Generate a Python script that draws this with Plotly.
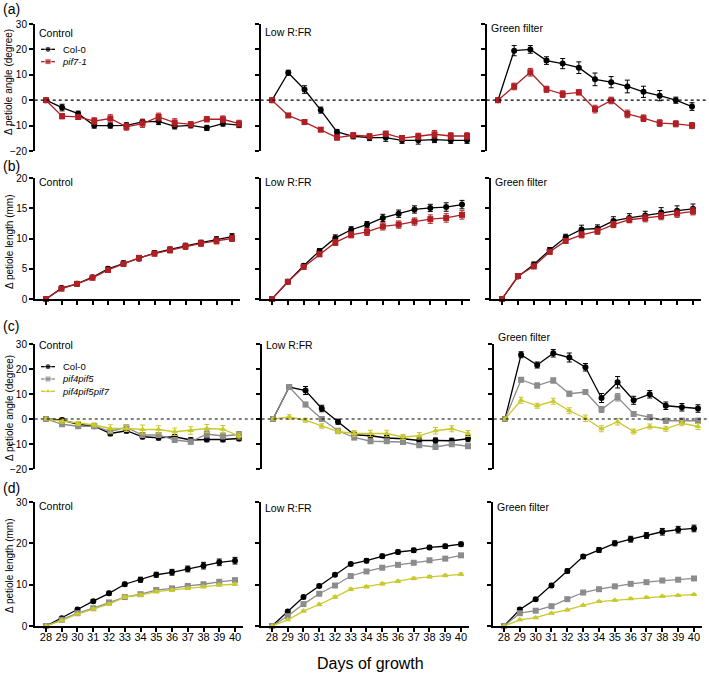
import plotly.graph_objects as go

DAYS = list(range(28, 41))
X_TICKS = [str(d) for d in DAYS]

# (a) petiole angle (degree): Col-0 vs pif7-1
A_CONTROL_COL0 = [0, -2.9, -5.3, -10.0, -10.0, -9.9, -8.5, -8.3, -10.3, -9.9, -10.9, -9.2, -9.8]
A_CONTROL_COL0_SE = [0, 1.3, 1.0, 1.0, 1.0, 1.0, 1.0, 1.3, 1.0, 1.0, 1.0, 1.0, 1.0]
A_CONTROL_PIF7 = [0, -6.3, -6.6, -8.2, -7.2, -10.5, -9.2, -6.6, -8.8, -9.5, -7.5, -7.5, -9.2]
A_CONTROL_PIF7_SE = [0, 1.0, 1.0, 1.3, 1.5, 1.3, 1.5, 1.5, 1.5, 1.0, 1.0, 1.3, 1.3]
A_LOW_COL0 = [0, 10.8, 4.2, -3.9, -12.5, -14.2, -14.7, -14.7, -15.8, -15.8, -15.5, -15.8, -15.8]
A_LOW_COL0_SE = [0, 1.0, 1.5, 1.2, 1.0, 1.0, 1.2, 1.5, 1.2, 1.5, 1.2, 1.2, 1.2]
A_LOW_PIF7 = [0, -6.0, -8.6, -11.6, -14.7, -13.8, -14.2, -13.2, -14.9, -14.2, -13.4, -14.1, -14.1]
A_LOW_PIF7_SE = [0, 0.8, 0.8, 0.8, 1.0, 1.0, 1.0, 1.0, 1.0, 1.2, 1.5, 1.3, 1.3]
A_GREEN_COL0 = [0, 19.5, 20.0, 15.6, 14.4, 12.8, 8.2, 7.1, 5.4, 3.3, 1.8, 0.0, -2.5]
A_GREEN_COL0_SE = [0, 2.0, 1.5, 1.5, 2.0, 2.3, 2.5, 2.2, 2.5, 2.2, 2.0, 1.2, 1.5]
A_GREEN_PIF7 = [0, 5.4, 11.0, 4.3, 2.4, 3.1, -3.5, -0.1, -5.4, -7.1, -9.0, -9.3, -10.0]
A_GREEN_PIF7_SE = [0, 1.3, 1.5, 1.2, 1.3, 1.0, 1.5, 1.3, 1.5, 1.3, 1.3, 1.2, 1.2]

# (b) petiole length (mm): Col-0 vs pif7-1
B_CONTROL_COL0 = [0, 1.8, 2.5, 3.6, 5.0, 5.9, 6.7, 7.6, 8.2, 8.8, 9.3, 9.8, 10.3]
B_CONTROL_COL0_SE = [0, 0.3, 0.3, 0.3, 0.3, 0.4, 0.4, 0.4, 0.4, 0.4, 0.4, 0.5, 0.5]
B_CONTROL_PIF7 = [0, 1.7, 2.5, 3.5, 4.8, 5.8, 6.8, 7.5, 8.1, 8.7, 9.2, 9.6, 10.0]
B_CONTROL_PIF7_SE = [0, 0.3, 0.3, 0.3, 0.4, 0.4, 0.4, 0.4, 0.5, 0.5, 0.5, 0.5, 0.5]
B_LOW_COL0 = [0, 2.85, 5.5, 7.95, 10.1, 11.45, 12.3, 13.4, 14.1, 14.8, 15.05, 15.2, 15.6]
B_LOW_COL0_SE = [0, 0.2, 0.3, 0.4, 0.5, 0.5, 0.5, 0.6, 0.6, 0.6, 0.6, 0.7, 0.7]
B_LOW_PIF7 = [0, 2.85, 5.3, 7.4, 9.35, 10.6, 11.1, 12.0, 12.3, 12.8, 13.2, 13.4, 13.9]
B_LOW_PIF7_SE = [0, 0.2, 0.3, 0.4, 0.5, 0.5, 0.6, 0.6, 0.6, 0.6, 0.7, 0.7, 0.7]
B_GREEN_COL0 = [0, 3.7, 5.7, 8.1, 10.2, 11.5, 11.65, 12.9, 13.4, 13.8, 14.3, 14.6, 14.9]
B_GREEN_COL0_SE = [0, 0.3, 0.4, 0.4, 0.5, 0.7, 0.6, 0.7, 0.7, 0.7, 0.8, 0.8, 0.8]
B_GREEN_PIF7 = [0, 3.8, 5.4, 7.8, 9.6, 10.6, 11.2, 12.3, 13.1, 13.35, 13.7, 14.1, 14.5]
B_GREEN_PIF7_SE = [0, 0.3, 0.4, 0.4, 0.4, 0.5, 0.5, 0.5, 0.5, 0.6, 0.6, 0.6, 0.6]

# (c) petiole angle (degree): Col-0, pif4pif5, pif4pif5pif7
C_CONTROL_COL0 = [0, -0.4, -2.1, -2.9, -5.8, -4.7, -7.1, -7.5, -7.1, -8.4, -8.2, -8.2, -7.8]
C_CONTROL_COL0_SE = [0, 0.7, 0.8, 0.8, 0.9, 0.9, 0.8, 0.9, 0.8, 0.9, 0.9, 0.9, 0.9]
C_CONTROL_PIF45 = [0, -2.1, -2.9, -2.9, -4.9, -3.4, -6.4, -6.4, -8.4, -9.1, -6.0, -6.8, -6.2]
C_CONTROL_PIF45_SE = [0, 0.8, 0.8, 0.7, 0.9, 1.0, 0.9, 1.0, 1.0, 1.0, 1.5, 1.2, 1.2]
C_CONTROL_PIF457 = [0, -0.9, -1.8, -2.4, -3.8, -3.8, -4.2, -4.2, -5.1, -4.6, -3.8, -4.1, -6.8]
C_CONTROL_PIF457_SE = [0, 0.8, 0.8, 0.8, 1.5, 1.2, 1.8, 1.5, 1.5, 1.5, 1.6, 1.5, 1.2]
C_LOW_COL0 = [0, 12.8, 11.4, 4.2, -1.1, -6.3, -6.7, -7.6, -7.9, -8.6, -8.6, -8.7, -7.9]
C_LOW_COL0_SE = [0, 1.0, 1.6, 1.3, 1.0, 1.0, 0.9, 1.0, 1.0, 1.0, 1.0, 1.0, 1.2]
C_LOW_PIF45 = [0, 12.8, 5.8, 0.0, -4.7, -7.4, -8.9, -8.9, -9.2, -10.5, -11.2, -10.1, -10.9]
C_LOW_PIF45_SE = [0, 0.8, 0.9, 0.9, 0.9, 0.9, 0.9, 0.9, 0.9, 0.9, 0.9, 0.9, 0.9]
C_LOW_PIF457 = [0, 0.8, -0.5, -2.8, -5.0, -5.8, -5.8, -5.8, -7.2, -6.7, -4.7, -3.9, -5.8]
C_LOW_PIF457_SE = [0, 0.9, 0.8, 0.9, 0.9, 1.2, 1.3, 1.3, 1.0, 1.3, 1.3, 1.2, 1.2]
C_GREEN_COL0 = [0, 25.7, 21.6, 26.3, 24.6, 20.7, 8.4, 14.7, 7.5, 9.9, 5.3, 4.7, 4.2]
C_GREEN_COL0_SE = [0, 1.2, 1.2, 1.5, 1.8, 1.5, 1.8, 2.3, 1.6, 1.5, 1.5, 1.5, 1.5]
C_GREEN_PIF45 = [0, 15.7, 13.4, 15.4, 10.1, 10.8, 3.8, 8.7, 2.0, 0.7, -0.7, -0.7, -0.7]
C_GREEN_PIF45_SE = [0, 0.9, 1.0, 1.0, 1.0, 1.0, 1.2, 1.5, 1.0, 1.0, 1.0, 1.0, 1.0]
C_GREEN_PIF457 = [0, 7.5, 5.3, 7.1, 3.3, 0.3, -3.9, -1.1, -5.0, -3.0, -3.9, -1.7, -3.0]
C_GREEN_PIF457_SE = [0, 1.2, 1.0, 1.2, 1.2, 1.3, 1.2, 1.3, 1.0, 1.0, 1.0, 1.0, 1.2]

# (d) petiole length (mm): Col-0, pif4pif5, pif4pif5pif7
D_CONTROL_COL0 = [0, 1.9, 4.0, 6.0, 7.9, 10.1, 11.2, 12.4, 13.0, 13.8, 14.6, 15.4, 15.8]
D_CONTROL_COL0_SE = [0, 0.3, 0.4, 0.4, 0.5, 0.5, 0.6, 0.6, 0.7, 0.7, 0.8, 0.8, 0.8]
D_CONTROL_PIF45 = [0, 1.5, 3.1, 4.3, 5.7, 7.0, 7.7, 8.7, 9.1, 9.7, 10.1, 10.7, 11.1]
D_CONTROL_PIF45_SE = [0, 0.2, 0.2, 0.3, 0.3, 0.3, 0.3, 0.4, 0.4, 0.4, 0.4, 0.4, 0.4]
D_CONTROL_PIF457 = [0, 1.3, 2.9, 4.1, 5.3, 7.0, 7.5, 8.3, 8.7, 9.1, 9.5, 9.9, 10.1]
D_CONTROL_PIF457_SE = [0, 0.2, 0.2, 0.3, 0.3, 0.3, 0.3, 0.3, 0.3, 0.3, 0.3, 0.3, 0.3]
D_LOW_COL0 = [0, 3.5, 7.0, 9.7, 12.4, 15.0, 15.8, 16.9, 17.9, 18.3, 19.0, 19.3, 19.8]
D_LOW_COL0_SE = [0, 0.3, 0.4, 0.4, 0.4, 0.4, 0.5, 0.5, 0.5, 0.5, 0.5, 0.5, 0.5]
D_LOW_PIF45 = [0, 2.4, 5.3, 7.8, 9.8, 12.1, 13.2, 14.1, 14.8, 15.3, 15.9, 16.3, 17.1]
D_LOW_PIF45_SE = [0, 0.2, 0.3, 0.3, 0.3, 0.3, 0.3, 0.3, 0.3, 0.4, 0.4, 0.4, 0.4]
D_LOW_PIF457 = [0, 1.5, 3.6, 5.2, 7.0, 8.9, 9.5, 10.2, 10.8, 11.5, 11.9, 12.2, 12.5]
D_LOW_PIF457_SE = [0, 0.2, 0.2, 0.3, 0.3, 0.3, 0.3, 0.3, 0.3, 0.3, 0.3, 0.3, 0.3]
D_GREEN_COL0 = [0, 4.0, 6.5, 9.8, 13.3, 16.8, 18.4, 20.0, 21.0, 21.9, 22.8, 23.3, 23.6]
D_GREEN_COL0_SE = [0, 0.4, 0.4, 0.5, 0.5, 0.5, 0.6, 0.6, 0.7, 0.7, 0.8, 0.8, 0.8]
D_GREEN_PIF45 = [0, 3.1, 3.7, 4.8, 6.5, 8.1, 8.9, 9.6, 10.2, 10.6, 11.0, 11.2, 11.5]
D_GREEN_PIF45_SE = [0, 0.3, 0.3, 0.3, 0.3, 0.3, 0.3, 0.3, 0.3, 0.3, 0.3, 0.3, 0.3]
D_GREEN_PIF457 = [0, 1.5, 2.0, 3.1, 3.9, 5.0, 5.9, 6.2, 6.6, 6.9, 7.2, 7.4, 7.6]
D_GREEN_PIF457_SE = [0, 0.2, 0.2, 0.2, 0.2, 0.2, 0.2, 0.2, 0.2, 0.2, 0.2, 0.2, 0.2]

CONDITIONS = ["Control", "Low R:FR", "Green filter"]
PANEL_LETTERS = ["(a)", "(b)", "(c)", "(d)"]
Y_TITLES = ["Δ petiole angle (degree)", "Δ petiole length (mm)",
            "Δ petiole angle (degree)", "Δ petiole length (mm)"]
Y_RANGES = [[-20, 30], [0, 20], [-20, 30], [0, 30]]
Y_DTICKS = [10, 5, 10, 10]
LEGEND_A = ["Col-0", "pif7-1"]
LEGEND_C = ["Col-0", "pif4pif5", "pif4pif5pif7"]

BLACK = "#000000"
RED = "#b01f24"
GREY = "#8c8c8c"
YELLOW = "#c9c92c"
STYLES = {
    "Col-0": (BLACK, "circle", "Col-0"),
    "pif7-1": (RED, "square", "<i>pif7-1</i>"),
    "pif4pif5": (GREY, "square", "<i>pif4pif5</i>"),
    "pif4pif5pif7": (YELLOW, "triangle-up", "<i>pif4pif5pif7</i>"),
}

PANELS = [
    [
        [("Col-0", A_CONTROL_COL0, A_CONTROL_COL0_SE), ("pif7-1", A_CONTROL_PIF7, A_CONTROL_PIF7_SE)],
        [("Col-0", A_LOW_COL0, A_LOW_COL0_SE), ("pif7-1", A_LOW_PIF7, A_LOW_PIF7_SE)],
        [("Col-0", A_GREEN_COL0, A_GREEN_COL0_SE), ("pif7-1", A_GREEN_PIF7, A_GREEN_PIF7_SE)],
    ],
    [
        [("Col-0", B_CONTROL_COL0, B_CONTROL_COL0_SE), ("pif7-1", B_CONTROL_PIF7, B_CONTROL_PIF7_SE)],
        [("Col-0", B_LOW_COL0, B_LOW_COL0_SE), ("pif7-1", B_LOW_PIF7, B_LOW_PIF7_SE)],
        [("Col-0", B_GREEN_COL0, B_GREEN_COL0_SE), ("pif7-1", B_GREEN_PIF7, B_GREEN_PIF7_SE)],
    ],
    [
        [("Col-0", C_CONTROL_COL0, C_CONTROL_COL0_SE), ("pif4pif5", C_CONTROL_PIF45, C_CONTROL_PIF45_SE),
         ("pif4pif5pif7", C_CONTROL_PIF457, C_CONTROL_PIF457_SE)],
        [("Col-0", C_LOW_COL0, C_LOW_COL0_SE), ("pif4pif5", C_LOW_PIF45, C_LOW_PIF45_SE),
         ("pif4pif5pif7", C_LOW_PIF457, C_LOW_PIF457_SE)],
        [("Col-0", C_GREEN_COL0, C_GREEN_COL0_SE), ("pif4pif5", C_GREEN_PIF45, C_GREEN_PIF45_SE),
         ("pif4pif5pif7", C_GREEN_PIF457, C_GREEN_PIF457_SE)],
    ],
    [
        [("Col-0", D_CONTROL_COL0, D_CONTROL_COL0_SE), ("pif4pif5", D_CONTROL_PIF45, D_CONTROL_PIF45_SE),
         ("pif4pif5pif7", D_CONTROL_PIF457, D_CONTROL_PIF457_SE)],
        [("Col-0", D_LOW_COL0, D_LOW_COL0_SE), ("pif4pif5", D_LOW_PIF45, D_LOW_PIF45_SE),
         ("pif4pif5pif7", D_LOW_PIF457, D_LOW_PIF457_SE)],
        [("Col-0", D_GREEN_COL0, D_GREEN_COL0_SE), ("pif4pif5", D_GREEN_PIF45, D_GREEN_PIF45_SE),
         ("pif4pif5pif7", D_GREEN_PIF457, D_GREEN_PIF457_SE)],
    ],
]

# page geometry (pixels)
W, H = 709, 674
FONT = "Arial, Liberation Sans, sans-serif"
X_RANGE = [27.3, 40.5]
ROW_PX = [(24, 151), (178, 299), (344, 469), (502, 626)]
# x pixel of day 28 and day 40 in each panel
DAY_PX = [
    [(46, 239), (272, 467), (498, 692)],
    [(46, 232), (272, 462), (502, 693)],
    [(46, 239), (273, 468), (505, 698)],
    [(46, 235), (272, 461), (504, 694)],
]
# vertical offset of the condition label from the top of each y axis
TITLE_OFFSET = [[9, 8, 4], [4, 4, 4], [1, 1, -7], [4, 6, 5]]
Y_TITLE_CENTER = [82, 242, 408, 566]
LETTER_Y = [9, 166, 326, 488]
# keys: vertical centre of each block (pixels), key glyph and text x
KEY_CENTER = [55.5, 379]
KEY_FONT = 9.5
KEY_X0, KEY_X1, KEY_TEXT_X = 41, 55, 61


def ax_id(k: int) -> str:
    return "" if k == 1 else str(k)


fig = go.Figure()
layout = {}
shapes = []
annotations = []

for r in range(4):
    top, bottom = ROW_PX[r]
    for c in range(3):
        k = r * 3 + c + 1
        p28, p40 = DAY_PX[r][c]
        ppd = (p40 - p28) / 12
        left = p28 - (28 - X_RANGE[0]) * ppd
        right = p40 + (X_RANGE[1] - 40) * ppd
        has_xline = r in (1, 3)
        layout[f"xaxis{ax_id(k)}"] = dict(
            domain=[left / W, right / W],
            range=X_RANGE,
            anchor=f"y{ax_id(k)}",
            tickmode="array",
            tickvals=DAYS,
            ticktext=X_TICKS,
            showticklabels=(r == 3),
            ticklabelstandoff=-4,
            showline=has_xline,
            linecolor="black",
            linewidth=1.5,
            ticks="outside" if has_xline else "",
            ticklen=4,
            tickwidth=1.5,
            tickcolor="black",
            showgrid=False,
            zeroline=False,
            automargin=False,
            tickfont=dict(size=11, color="black"),
        )
        layout[f"yaxis{ax_id(k)}"] = dict(
            domain=[1 - bottom / H, 1 - top / H],
            range=Y_RANGES[r],
            dtick=Y_DTICKS[r],
            tick0=0,
            anchor=f"x{ax_id(k)}",
            showticklabels=(c == 0),
            showline=True,
            linecolor="black",
            linewidth=1.5,
            ticks="outside",
            ticklen=4,
            tickwidth=1.5,
            tickcolor="black",
            showgrid=False,
            zeroline=False,
            automargin=False,
            tickfont=dict(size=10, color="black"),
        )

        for name, vals, errs in PANELS[r][c]:
            color, symbol, label = STYLES[name]
            fig.add_trace(go.Scatter(
                x=DAYS,
                y=vals,
                name=label,
                mode="lines+markers",
                line=dict(color=color, width=1.3),
                marker=dict(color=color, symbol=symbol, size=6),
                error_y=dict(type="data", array=errs, color=color,
                             thickness=1, width=2.5),
                xaxis=f"x{ax_id(k)}",
                yaxis=f"y{ax_id(k)}",
                showlegend=False,
                cliponaxis=False,
            ))

        if r in (0, 2):
            shapes.append(dict(
                type="line", xref=f"x{ax_id(k)} domain", yref=f"y{ax_id(k)}",
                x0=0, x1=1.03, y0=0, y1=0,
                line=dict(color="black", width=1.2, dash="dot"),
            ))

        annotations.append(dict(
            text=CONDITIONS[c], xref="paper", yref="paper",
            x=(left + 2) / W, y=1 - (top + TITLE_OFFSET[r][c]) / H,
            xanchor="left", yanchor="middle", showarrow=False,
            font=dict(size=10.5, color="black"),
        ))

    annotations.append(dict(
        text=Y_TITLES[r], xref="paper", yref="paper", textangle=-90,
        x=9 / W, y=1 - Y_TITLE_CENTER[r] / H, xanchor="center",
        yanchor="middle", showarrow=False, font=dict(size=10, color="black"),
    ))
    annotations.append(dict(
        text=PANEL_LETTERS[r], xref="paper", yref="paper",
        x=1 / W, y=1 - LETTER_Y[r] / H, xanchor="left", yanchor="middle",
        showarrow=False, font=dict(size=14, color="black"),
    ))

# compact keys: glyphs on a page-sized overlay axis (pixel units),
# labels as one multi-line text so the rows line up with the glyphs
layout["xaxis13"] = dict(domain=[0, 1], range=[0, W], visible=False,
                         fixedrange=True, anchor="y13")
layout["yaxis13"] = dict(domain=[0, 1], range=[H, 0], visible=False,
                         fixedrange=True, anchor="x13")
line_step = 1.3 * KEY_FONT
for names, center in zip((LEGEND_A, LEGEND_C), KEY_CENTER):
    n = len(names)
    for i, name in enumerate(names):
        color, symbol, label = STYLES[name]
        yy = center + (i - (n - 1) / 2) * line_step
        fig.add_trace(go.Scatter(
            x=[KEY_X0, (KEY_X0 + KEY_X1) / 2, KEY_X1],
            y=[yy, yy, yy],
            mode="lines+markers",
            line=dict(color=color, width=1.3),
            marker=dict(color=color, symbol=symbol, size=[0, 6, 0]),
            xaxis="x13", yaxis="y13", showlegend=False, hoverinfo="skip",
        ))
    annotations.append(dict(
        text="<br>".join(STYLES[name][2] for name in names),
        xref="paper", yref="paper", x=KEY_TEXT_X / W, y=1 - center / H,
        xanchor="left", yanchor="middle", align="left", showarrow=False,
        borderpad=0, font=dict(size=KEY_FONT, color="black"),
    ))

annotations.append(dict(
    text="Days of growth", xref="paper", yref="paper",
    x=370 / W, y=1 - 663 / H, xanchor="center", yanchor="middle",
    showarrow=False, font=dict(size=16, color="black"),
))

fig.update_layout(
    **layout,
    width=W,
    height=H,
    margin=dict(l=0, r=0, t=0, b=0),
    paper_bgcolor="white",
    plot_bgcolor="rgba(0,0,0,0)",
    font=dict(family=FONT, color="black"),
    shapes=shapes,
    annotations=annotations,
    showlegend=False,
)

# drop the default page margin so the figure sits at the window's corner
fig.write_html(
    "out.html",
    config={"displayModeBar": False},
    post_script="document.body.style.margin='0';",
)
